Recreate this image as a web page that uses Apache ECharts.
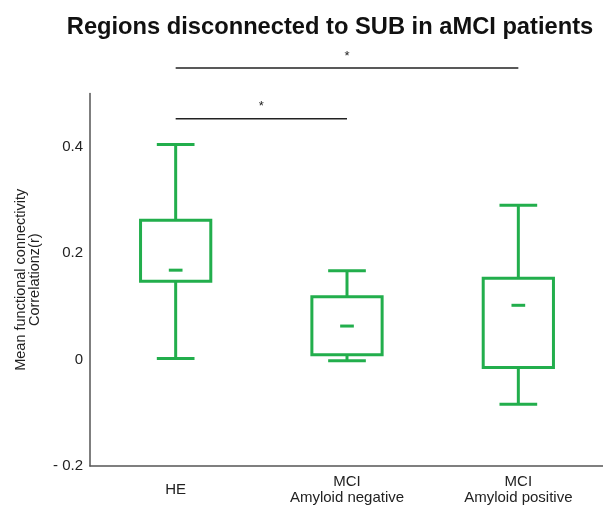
<!DOCTYPE html>
<html>
<head>
<meta charset="utf-8">
<script src="https://cdn.jsdelivr.net/npm/echarts@6/dist/echarts.min.js"></script>
<style>
html,body{margin:0;padding:0;background:#fff;}
#chart{width:603px;height:507px;}
</style>
</head>
<body>
<div id="chart"></div>
<script>
// ---- data ----
const categories = ['HE', 'MCI\nAmyloid negative', 'MCI\nAmyloid positive'];
const whiskerLow = [0.002, -0.002, -0.084];
const q1 = [0.147, 0.009, -0.015];
const q3 = [0.262, 0.118, 0.153];
const whiskerHigh = [0.404, 0.167, 0.290];
const means = [0.168, 0.063, 0.102];
// significance brackets: [fromIndex, toIndex, level]
const sigFrom = [0, 0];
const sigTo = [2, 1];
const sigLevel = [0.548, 0.4525];
const sigLabel = ['*', '*'];
const yTicks = [-0.2, 0, 0.2, 0.4];

const GREEN = '#22ae4c';
const FONT = '"Liberation Sans", Arial, sans-serif';
const chart = echarts.init(document.getElementById('chart'));

const boxData = categories.map((c, i) => [i, whiskerLow[i], q1[i], q3[i], whiskerHigh[i], means[i]]);
const sigData = sigFrom.map((f, i) => [f, sigTo[i], sigLevel[i]]);

function renderBox(params, api) {
  const idx = api.value(0);
  const band = api.size([1, 0])[0];
  const boxW = band * 0.41;
  const capW = band * 0.22;
  const meanW = band * 0.08;
  const pLow = api.coord([idx, api.value(1)]);
  const pQ1 = api.coord([idx, api.value(2)]);
  const pQ3 = api.coord([idx, api.value(3)]);
  const pHigh = api.coord([idx, api.value(4)]);
  const pMean = api.coord([idx, api.value(5)]);
  const x = pQ1[0];
  const st = {stroke: GREEN, lineWidth: 3, fill: null};
  return {
    type: 'group',
    children: [
      {type: 'rect', shape: {x: x - boxW / 2, y: pQ3[1], width: boxW, height: pQ1[1] - pQ3[1]}, style: st},
      {type: 'line', shape: {x1: x, y1: pQ3[1], x2: x, y2: pHigh[1]}, style: st},
      {type: 'line', shape: {x1: x, y1: pQ1[1], x2: x, y2: pLow[1]}, style: st},
      {type: 'line', shape: {x1: x - capW / 2, y1: pHigh[1], x2: x + capW / 2, y2: pHigh[1]}, style: st},
      {type: 'line', shape: {x1: x - capW / 2, y1: pLow[1], x2: x + capW / 2, y2: pLow[1]}, style: st},
      {type: 'line', shape: {x1: x - meanW / 2, y1: pMean[1], x2: x + meanW / 2, y2: pMean[1]}, style: st}
    ]
  };
}

function renderSig(params, api) {
  const a = api.coord([api.value(0), api.value(2)]);
  const b = api.coord([api.value(1), api.value(2)]);
  const label = sigLabel[params.dataIndex];
  return {
    type: 'group',
    children: [
      {type: 'line', shape: {x1: a[0], y1: a[1], x2: b[0], y2: b[1]}, style: {stroke: '#222', lineWidth: 1.5}},
      {type: 'text', x: (a[0] + b[0]) / 2, y: a[1] - 12,
        style: {text: label, fill: '#222', font: '13px ' + FONT, align: 'center', verticalAlign: 'middle'}}
    ]
  };
}

chart.setOption({
  animation: false,
  backgroundColor: '#fff',
  title: {
    text: 'Regions disconnected to SUB in aMCI patients',
    left: 325, top: 10, textAlign: 'center',
    textStyle: {fontFamily: FONT, fontWeight: 'bold', fontSize: 23.7, color: '#111'}
  },
  grid: {left: 90, width: 514, top: 93.5, height: 372.5, containLabel: false, outerBoundsMode: 'none'},
  xAxis: {
    type: 'category',
    data: categories,
    axisLine: {onZero: false, lineStyle: {color: '#555', width: 1.5}},
    axisTick: {show: false},
    axisLabel: {color: '#222', fontSize: 15, fontFamily: FONT, lineHeight: 16.5, verticalAlign: 'middle', margin: 24, interval: 0}
  },
  yAxis: {
    type: 'value',
    min: -0.2, max: 0.5, interval: 0.2,
    name: 'Mean functional connectivity\nCorrelationz(r)',
    nameLocation: 'middle', nameRotate: 90, nameGap: 45,
    nameTextStyle: {color: '#222', fontSize: 14.5, lineHeight: 14, fontFamily: FONT},
    axisLine: {show: true, lineStyle: {color: '#555', width: 1.5}},
    axisTick: {show: false},
    splitLine: {show: false},
    axisLabel: {
      color: '#222', fontSize: 15, margin: 7, showMaxLabel: false,
      fontFamily: FONT,
      formatter: function (v) {
        const t = yTicks.find(k => Math.abs(k - v) < 1e-9);
        if (t === undefined) return '';
        if (t === 0) return '0';
        return t < 0 ? '- ' + Math.abs(t).toFixed(1) : t.toFixed(1);
      }
    }
  },
  series: [
    {type: 'custom', renderItem: renderBox, data: boxData, clip: false, encode: {x: 0, y: [1, 2, 3, 4, 5]}},
    {type: 'custom', renderItem: renderSig, data: sigData, clip: false, encode: {x: [0, 1], y: 2}}
  ]
});
</script>
</body>
</html>
